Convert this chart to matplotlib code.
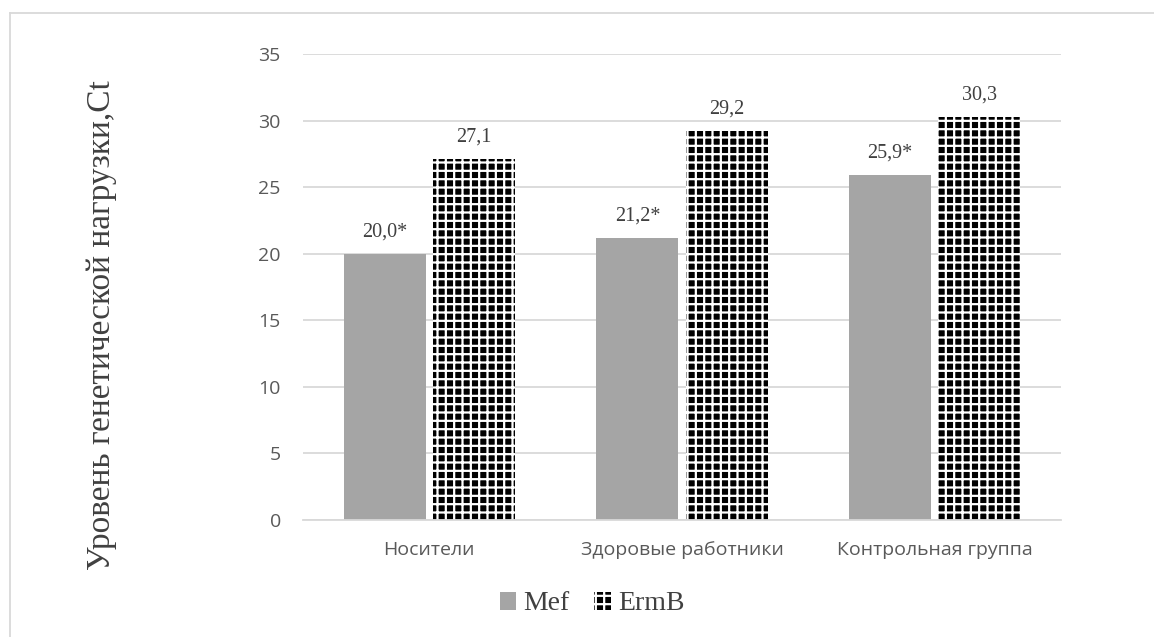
import matplotlib
matplotlib.use("Agg")
import matplotlib.pyplot as plt
import numpy as np
from matplotlib.patches import Patch
from matplotlib.lines import Line2D

categories = ["Носители", "Здоровые работники", "Контрольная группа"]
mef_values = [20.0, 21.2, 25.9]
ermb_values = [27.1, 29.2, 30.3]
mef_labels = ["20,0*", "21,2*", "25,9*"]
ermb_labels = ["27,1", "29,2", "30,3"]
y_ticks = [0, 5, 10, 15, 20, 25, 30, 35]
y_label = "Уровень генетической нагрузки,Ct"
series_names = ["Mef", "ErmB"]

plt.rcParams["hatch.linewidth"] = 1.6

W, H = 1154, 637
fig = plt.figure(figsize=(W / 100, H / 100), dpi=100)
ax = fig.add_axes([303 / W, 1 - 520 / H, (1061 - 303) / W, (520 - 54) / H])

x = np.arange(len(categories))
bw = 0.325
gap = 0.028
grid_c = "#d9d9d9"
text_c = "#595959"
label_c = "#404040"
serif = "Liberation Serif"
sans = "Open Sans"

ax.set_axisbelow(True)
ax.yaxis.grid(True, color=grid_c, linewidth=1.3)

mef_bars = ax.bar(x - (bw + gap) / 2, mef_values, width=bw, color="#a5a5a5",
                  linewidth=0)
ermb_bars = ax.bar(x + (bw + gap) / 2, ermb_values, width=bw, facecolor="black",
                   edgecolor="white", hatch="++", linewidth=0)

for bars, labels in ((mef_bars, mef_labels), (ermb_bars, ermb_labels)):
    for b, lab in zip(bars, labels):
        ax.annotate(lab, (b.get_x() + b.get_width() / 2, b.get_height()),
                    xytext=(0, 9), textcoords="offset points",
                    ha="center", va="bottom", fontsize=14.5,
                    fontfamily=serif, color=label_c)

ax.set_xlim(-0.5, len(categories) - 0.5)
ax.set_ylim(0, 35)
ax.set_yticks(y_ticks)
ax.set_xticks(x)
ax.set_xticklabels(categories, fontfamily=sans, fontsize=14, color=text_c)
for t in ax.get_yticklabels():
    t.set_fontfamily(sans)
    t.set_fontsize(14)
    t.set_color(text_c)
ax.tick_params(axis="both", length=0)
ax.tick_params(axis="x", pad=15)
ax.tick_params(axis="y", pad=16)

for s in ("top", "right", "left"):
    ax.spines[s].set_visible(False)
ax.spines["bottom"].set_color(grid_c)
ax.spines["bottom"].set_linewidth(1.3)

fig.text(102 / W, 1 - 325 / H, y_label, rotation=90, ha="center", va="center",
         fontsize=24, fontfamily=serif, color=label_c)

handles = [
    Patch(facecolor="#a5a5a5", linewidth=0),
    Patch(facecolor="black", edgecolor="white", hatch="++", linewidth=0),
]
leg = fig.legend(handles, series_names, loc="center",
                 bbox_to_anchor=(592 / W, 1 - 604 / H), ncol=2, frameon=False,
                 prop={"family": serif, "size": 20},
                 handlelength=0.6, handleheight=0.6, handletextpad=0.25,
                 columnspacing=0.9)
for t in leg.get_texts():
    t.set_color(label_c)

# thin frame lines along the top and left edges
fig.add_artist(Line2D([10 / W, 1], [1 - 13 / H, 1 - 13 / H], color=grid_c,
                      linewidth=1.3, transform=fig.transFigure))
fig.add_artist(Line2D([10 / W, 10 / W], [0, 1 - 13 / H], color=grid_c,
                      linewidth=1.3, transform=fig.transFigure))

fig.savefig("out.png", dpi=100)
